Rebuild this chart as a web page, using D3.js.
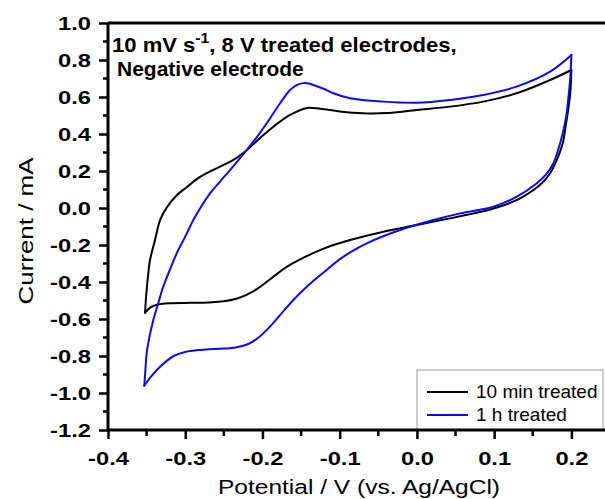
<!DOCTYPE html>
<html><head><meta charset="utf-8">
<script src="https://cdn.jsdelivr.net/npm/d3@7"></script>
<style>body{margin:0;background:#fff}svg{display:block}</style>
</head><body><svg id="c" width="605" height="499"></svg>
<script>
// ---- data ----
const xTickValues = [-0.4, -0.3, -0.2, -0.1, 0.0, 0.1, 0.2];
const yTickValues = [1.0, 0.8, 0.6, 0.4, 0.2, 0.0, -0.2, -0.4, -0.6, -0.8, -1.0, -1.2];
const seriesNames = ["10 min treated", "1 h treated"];
const seriesColors = ["#000000", "#0a0aee"];

// 10 min treated: anodic (forward) sweep
const blackFwdV = [-0.352, -0.3505, -0.348, -0.3456, -0.3391, -0.3326, -0.3236, -0.3106, -0.2977, -0.2808, -0.2588, -0.2381, -0.22, -0.2031, -0.1863, -0.1642, -0.1422, -0.125, -0.1, -0.07, -0.04, 0.0, 0.043, 0.086, 0.129, 0.1725, 0.2];
const blackFwdI = [-0.566, -0.47, -0.36, -0.281, -0.173, -0.065, 0.005, 0.07, 0.114, 0.168, 0.216, 0.259, 0.314, 0.378, 0.438, 0.503, 0.541, 0.536, 0.522, 0.512, 0.513, 0.53, 0.548, 0.575, 0.62, 0.692, 0.746];
// 10 min treated: cathodic (reverse) sweep
const blackRevV = [0.2, 0.1985, 0.196, 0.1925, 0.1898, 0.185, 0.179, 0.1725, 0.162, 0.1509, 0.136, 0.1207, 0.1035, 0.0861, 0.065, 0.043, 0.02, 0.0, -0.0434, -0.0865, -0.11, -0.13, -0.15, -0.17, -0.19, -0.205, -0.22, -0.235, -0.25, -0.265, -0.28, -0.3, -0.32, -0.335, -0.345, -0.352];
const blackRevI = [0.746, 0.62, 0.535, 0.44, 0.368, 0.3, 0.24, 0.188, 0.135, 0.097, 0.058, 0.028, 0.003, -0.018, -0.037, -0.056, -0.075, -0.092, -0.128, -0.173, -0.203, -0.236, -0.275, -0.322, -0.385, -0.432, -0.468, -0.492, -0.504, -0.51, -0.512, -0.513, -0.515, -0.522, -0.537, -0.566];

// 1 h treated: forward sweep
const blueFwdV = [-0.353, -0.3515, -0.3499, -0.346, -0.3413, -0.335, -0.3284, -0.32, -0.311, -0.3, -0.2895, -0.2679, -0.255, -0.242, -0.2203, -0.207, -0.1944, -0.1772, -0.1642, -0.155, -0.147, -0.14, -0.1341, -0.12, -0.1082, -0.0865, -0.0434, 0.0, 0.043, 0.086, 0.129, 0.1725, 0.2];
const blueFwdI = [-0.96, -0.87, -0.785, -0.69, -0.605, -0.515, -0.425, -0.335, -0.245, -0.155, -0.065, 0.079, 0.143, 0.205, 0.314, 0.385, 0.458, 0.566, 0.638, 0.665, 0.675, 0.673, 0.665, 0.643, 0.62, 0.593, 0.575, 0.569, 0.584, 0.611, 0.656, 0.737, 0.827];
// 1 h treated: reverse sweep
const blueRevV = [0.2, 0.1985, 0.1963, 0.1935, 0.1898, 0.184, 0.1768, 0.167, 0.1553, 0.1294, 0.0991, 0.056, 0.0214, -0.0218, -0.065, -0.0865, -0.1, -0.115, -0.13, -0.145, -0.16, -0.175, -0.19, -0.205, -0.22, -0.235, -0.25, -0.28, -0.3, -0.315, -0.3326, -0.343, -0.353];
const blueRevI = [0.827, 0.7, 0.602, 0.5, 0.422, 0.33, 0.242, 0.18, 0.134, 0.061, 0.007, -0.029, -0.065, -0.119, -0.191, -0.24, -0.278, -0.328, -0.38, -0.435, -0.497, -0.568, -0.64, -0.7, -0.738, -0.754, -0.76, -0.767, -0.778, -0.8, -0.858, -0.905, -0.96];

// ---- layout ----
const svg = d3.select("#c");
const L = 108, T = 23, B = 430, R = 610;
const x = d3.scaleLinear().domain([-0.4, 0.25]).range([L, R]);
const y = d3.scaleLinear().domain([-1.2, 1.0]).range([B, T]);
const FONT = "Arial, 'Liberation Sans', Helvetica, sans-serif";

// curves
const line = d3.line().x(d => x(d[0])).y(d => y(d[1])).curve(d3.curveCatmullRom.alpha(0.5));
const zip = (a, b) => a.map((v, i) => [v, b[i]]);
const series = [
  [zip(blackFwdV, blackFwdI), zip(blackRevV, blackRevI)],
  [zip(blueFwdV, blueFwdI), zip(blueRevV, blueRevI)]
];
const plot = svg.append("g");
series.forEach((branches, si) => {
  branches.forEach(pts => {
    plot.append("path").attr("d", line(pts)).attr("fill", "none")
      .attr("stroke", seriesColors[si]).attr("stroke-width", 2)
      .attr("stroke-linejoin", "round").attr("stroke-linecap", "round");
  });
});

// frame top
svg.append("line").attr("x1", L).attr("x2", R + 5).attr("y1", T).attr("y2", T)
  .attr("stroke", "#000").attr("stroke-width", 3);

// legend
const lg = svg.append("g");
lg.append("rect").attr("x", 417).attr("y", 370).attr("width", 186).attr("height", 60)
  .attr("fill", "#fff").attr("stroke", "#999").attr("stroke-width", 1);
seriesNames.forEach((name, i) => {
  const yy = 392 + i * 23;
  lg.append("line").attr("x1", 427).attr("x2", 468).attr("y1", yy).attr("y2", yy)
    .attr("stroke", seriesColors[i]).attr("stroke-width", 2);
  lg.append("text").attr("x", 476).attr("y", yy + 6).attr("font-family", FONT)
    .attr("font-size", 19).attr("fill", "#000").text(name);
});

// axes
const TS = 1.25; // horizontal stretch of tick labels
const fmt = d => d3.format(".1f")(d).replace("\u2212", "-");
const yAxis = d3.axisLeft(y).tickValues(yTickValues).tickFormat(fmt).tickSize(9).tickPadding(8);
const gy = svg.append("g").attr("transform", `translate(${L},0)`).call(yAxis);
const minorY = d3.range(-1.1, 1.0, 0.2);
gy.selectAll(".minor").data(minorY).enter().append("line").attr("class", "minor")
  .attr("x1", -5).attr("x2", 0).attr("y1", d => y(d)).attr("y2", d => y(d));

const xAxis = d3.axisBottom(x).tickValues(xTickValues).tickFormat(fmt).tickSize(9).tickPadding(8);
const gx = svg.append("g").attr("transform", `translate(0,${B})`).call(xAxis);
const minorX = [-0.35, -0.25, -0.15, -0.05, 0.05, 0.15];
gx.selectAll(".minor").data(minorX).enter().append("line").attr("class", "minor")
  .attr("y1", 0).attr("y2", 6).attr("x1", d => x(d)).attr("x2", d => x(d));

[gx, gy].forEach(g => {
  g.select(".domain").attr("stroke", "#000").attr("stroke-width", 3);
  g.selectAll(".tick line, .minor").attr("stroke", "#000").attr("stroke-width", 2.5);
  g.selectAll("text").attr("font-family", FONT).attr("font-size", 19).attr("font-weight", "bold").attr("fill", "#000");
});
gx.select(".domain").attr("d", `M${L},0H${R + 5}`);
gy.select(".domain").attr("d", `M0,${B}V${T}`);
gy.selectAll(".tick text").attr("x", -17 / TS).attr("dy", "0.36em").attr("transform", `scale(${TS},1)`);
gx.selectAll(".tick text").attr("y", 0).attr("dy", 0).attr("transform", `translate(0,35) scale(${TS},1)`);

// axis titles
svg.append("text").attr("x", (L + R) / 2).attr("y", 494).attr("text-anchor", "middle")
  .attr("font-family", FONT).attr("font-size", 20).attr("textLength", 282).attr("lengthAdjust", "spacingAndGlyphs")
  .text("Potential / V (vs. Ag/AgCl)");
svg.append("text").attr("transform", `translate(33,231) rotate(-90)`).attr("text-anchor", "middle")
  .attr("font-family", FONT).attr("font-size", 21).attr("textLength", 147).attr("lengthAdjust", "spacingAndGlyphs")
  .text("Current / mA");

// annotation
const ann = svg.append("text").attr("transform", "translate(112,52) scale(1.05,1)").attr("font-family", FONT)
  .attr("font-size", 21).attr("font-weight", "bold");
ann.append("tspan").text("10 mV s");
ann.append("tspan").attr("dy", -9).attr("font-size", 15).text("-1");
ann.append("tspan").attr("dy", 9).text(", 8 V treated electrodes,");
svg.append("text").attr("x", 117).attr("y", 76).attr("font-family", FONT)
  .attr("font-size", 21).attr("font-weight", "bold").text("Negative electrode");
</script></body></html>
